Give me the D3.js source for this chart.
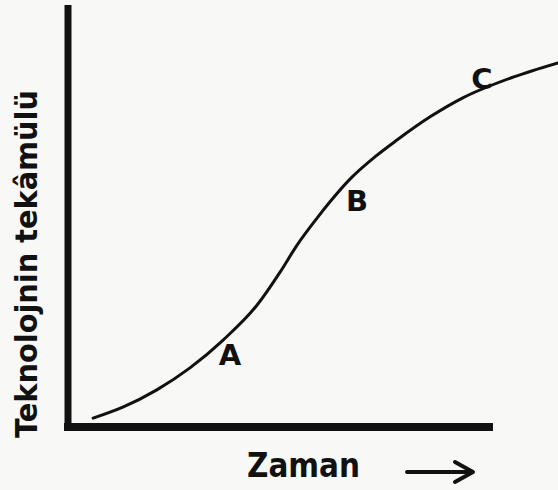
<!DOCTYPE html>
<html>
<head>
<meta charset="utf-8">
<script src="https://cdn.jsdelivr.net/npm/d3@7"></script>
<style>
  body { margin: 0; background: #f8f8f6; }
  svg { display: block; }
</style>
</head>
<body>
<svg></svg>
<script>
// S-curve of technology evolution (scanned figure)

// curve samples: time (x) vs. evolution level (y), both 0..100 on the axes
var curveTime  = [5.9, 12.9, 20.9, 28.7, 36.5, 44.5, 49.9, 53.9, 58.6, 61.6, 66.4, 72.2, 77.4, 85.2, 92.9, 104.7, 115.3];
var curveLevel = [2.1, 4.7, 8.8, 14.0, 20.6, 28.9, 36.7, 43.1, 49.5, 53.3, 58.8, 64.0, 68.0, 73.5, 78.0, 82.9, 86.3];

// stage letters placed next to the curve
var stageNames = ["A", "B", "C"];
var stageTime  = [38.1, 68.0, 97.4];
var stageLevel = [17.1, 53.6, 82.6];

var xLabel = "Zaman";
var yLabel = "Teknolojnin tekâmülü";

var svg = d3.select("svg")
    .attr("width", 558)
    .attr("height", 490);

var ink = "#111";

var x = d3.scaleLinear().domain([0, 100]).range([68, 493]);
var y = d3.scaleLinear().domain([0, 100]).range([427, 5]);

// axes: plain thick lines, no ticks
svg.append("g")
    .attr("transform", "translate(0," + y(0) + ")")
    .call(d3.axisBottom(x).tickValues([]).tickSizeOuter(0))
  .select(".domain")
    .attr("stroke", ink)
    .attr("stroke-width", 8)
    .attr("d", "M" + (x(0) - 4) + ",0H" + x(100));

svg.append("g")
    .attr("transform", "translate(" + x(0) + ",0)")
    .call(d3.axisLeft(y).tickValues([]).tickSizeOuter(0))
  .select(".domain")
    .attr("stroke", ink)
    .attr("stroke-width", 7)
    .attr("d", "M0," + (y(0) + 4) + "V" + y(100));

// the curve
var pts = curveTime.map(function(t, i) { return [t, curveLevel[i]]; });

var line = d3.line()
    .x(function(d) { return x(d[0]); })
    .y(function(d) { return y(d[1]); })
    .curve(d3.curveMonotoneX);

svg.append("path")
    .datum(pts)
    .attr("d", line)
    .attr("fill", "none")
    .attr("stroke", ink)
    .attr("stroke-width", 3)
    .attr("stroke-linecap", "round");

// stage letters
svg.selectAll("text.stage")
    .data(stageNames)
    .enter()
    .append("text")
      .attr("class", "stage")
      .attr("x", function(d, i) { return x(stageTime[i]); })
      .attr("y", function(d, i) { return y(stageLevel[i]); })
      .attr("dy", "0.36em")
      .attr("text-anchor", "middle")
      .attr("font-family", "DejaVu Sans")
      .attr("font-weight", "bold")
      .attr("font-size", 29)
      .attr("fill", ink)
      .text(function(d) { return d; });

// axis titles
svg.append("text")
    .attr("x", 247)
    .attr("y", 477)
    .attr("font-family", "DejaVu Sans")
    .attr("font-weight", "bold")
    .attr("font-size", 33)
    .attr("textLength", 113)
    .attr("lengthAdjust", "spacingAndGlyphs")
    .attr("fill", ink)
    .text(xLabel);

svg.append("text")
    .attr("transform", "translate(37,438) rotate(-90)")
    .attr("font-family", "DejaVu Sans")
    .attr("font-weight", "bold")
    .attr("font-size", 30)
    .attr("textLength", 348)
    .attr("lengthAdjust", "spacingAndGlyphs")
    .attr("fill", ink)
    .text(yLabel);

// arrow next to "Zaman"
var arrow = d3.path();
arrow.moveTo(407, 472);
arrow.lineTo(471, 472);
arrow.moveTo(455, 462);
arrow.lineTo(473, 472);
arrow.lineTo(455, 482);

svg.append("path")
    .attr("d", arrow.toString())
    .attr("fill", "none")
    .attr("stroke", ink)
    .attr("stroke-width", 4)
    .attr("stroke-linecap", "round")
    .attr("stroke-linejoin", "round");
</script>
</body>
</html>
